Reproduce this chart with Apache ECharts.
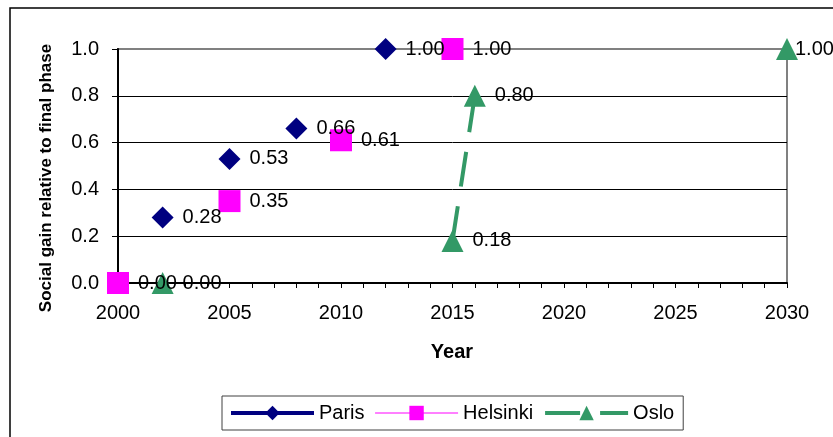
<!DOCTYPE html>
<html>
<head>
<meta charset="utf-8">
<script src="https://cdn.jsdelivr.net/npm/echarts@6/dist/echarts.min.js"></script>
<style>
  html, body { margin: 0; padding: 0; background: #fff; }
  #chart { width: 833px; height: 437px; }
</style>
</head>
<body>
<div id="chart"></div>
<script>
// values
const parisYears = [2002, 2005, 2008, 2012];
const parisValues = [0.28, 0.53, 0.66, 1.00];
const helsinkiYears = [2000, 2005, 2010, 2015];
const helsinkiValues = [0.00, 0.35, 0.61, 1.00];
const osloYears = [2002, 2015, 2016, 2030];
const osloValues = [0.00, 0.18, 0.80, 1.00];
// which neighbouring points are joined by a line (only Oslo 2015-2016)
const parisJoined = [false, false, false];
const helsinkiJoined = [false, false, false];
const osloJoined = [false, true, false];

const yTicks = [0, 0.2, 0.4, 0.6, 0.8, 1.0];
const xTicks = [2000, 2005, 2010, 2015, 2020, 2025, 2030];

const FONT = 'Liberation Sans, Arial, sans-serif';
const X_MAX = xTicks[xTicks.length - 1];

// build points, putting a break where two points are not joined
function buildData(years, values, joined) {
  let out = [];
  for (let i = 0; i < years.length; i++) {
    let item = { value: [years[i], values[i]] };
    // a point on the right edge keeps its label inside the chart, like excel
    if (years[i] === X_MAX) {
      item.label = { distance: -3 };
    }
    out.push(item);
    if (i < joined.length && !joined[i]) {
      out.push([years[i], '-']);
    }
  }
  return out;
}

function makeSeries(name, years, values, joined, symbol, color, width, dash) {
  return {
    name: name,
    type: 'line',
    data: buildData(years, values, joined),
    connectNulls: false,
    symbol: symbol,
    symbolSize: 22,
    showAllSymbol: true,
    itemStyle: { color: color },
    lineStyle: { color: color, width: width, type: dash },
    label: {
      show: true,
      position: 'right',
      distance: 9,
      color: '#000',
      fontFamily: FONT,
      fontSize: 20,
      formatter: function (p) { return Number(p.value[1]).toFixed(2); }
    },
    emphasis: { disabled: true },
    animation: false
  };
}

let chart = echarts.init(document.getElementById('chart'));

let options = {
  backgroundColor: '#fff',
  animation: false,
  textStyle: { fontFamily: FONT },
  grid: {
    left: 118,
    right: 46,
    top: 49,
    bottom: 154,
    show: true,
    borderColor: '#808080',
    borderWidth: 2
  },
  xAxis: {
    type: 'value',
    min: xTicks[0],
    max: X_MAX,
    interval: 5,
    axisLine: { show: true, lineStyle: { color: '#000', width: 2 } },
    axisTick: { show: true, inside: false, length: 5, lineStyle: { color: '#000', width: 1 } },
    minorTick: { show: true, splitNumber: 5, length: 5, lineStyle: { color: '#000', width: 1 } },
    splitLine: { show: false },
    axisLabel: {
      color: '#000',
      fontSize: 20,
      fontFamily: FONT,
      margin: 20,
      formatter: function (v) { return String(v); }
    }
  },
  yAxis: {
    type: 'value',
    min: yTicks[0],
    max: yTicks[yTicks.length - 1],
    interval: 0.2,
    axisLine: { show: true, lineStyle: { color: '#000', width: 2 } },
    axisTick: { show: true, inside: false, length: 6, lineStyle: { color: '#000', width: 1 } },
    splitLine: {
      show: true,
      lineStyle: { color: ['#000', '#000', '#000', '#000', '#000', '#808080'], width: 1 }
    },
    axisLabel: {
      color: '#000',
      fontSize: 20,
      fontFamily: FONT,
      margin: 19,
      formatter: function (v) { return v.toFixed(1); }
    }
  },
  legend: {
    left: 222,
    top: 396,
    orient: 'horizontal',
    itemWidth: 83,
    itemHeight: 18,
    itemGap: 10,
    padding: [7, 9, 7, 7],
    borderColor: '#404040',
    borderWidth: 1,
    selectedMode: false,
    textStyle: { color: '#000', fontSize: 20, fontFamily: FONT, lineHeight: 20 },
    data: [
      { name: 'Paris', lineStyle: { width: 4 } },
      { name: 'Helsinki', lineStyle: { width: 1 } },
      { name: 'Oslo', lineStyle: { width: 4 } }
    ]
  },
  graphic: [
    {
      type: 'rect',
      shape: { x: 10, y: 8, width: 900, height: 500 },
      style: { fill: 'none', stroke: '#000', lineWidth: 1.5 },
      silent: true
    },
    {
      type: 'text',
      x: 452,
      y: 352,
      style: {
        text: 'Year',
        fill: '#000',
        font: 'bold 20px ' + FONT,
        textAlign: 'center',
        textVerticalAlign: 'middle'
      }
    },
    {
      type: 'text',
      x: 46,
      y: 178,
      rotation: Math.PI / 2,
      style: {
        text: 'Social gain relative to final phase',
        fill: '#000',
        font: 'bold 17px ' + FONT,
        textAlign: 'center',
        textVerticalAlign: 'middle'
      }
    }
  ],
  series: [
    makeSeries('Paris', parisYears, parisValues, parisJoined, 'diamond', '#000080', 4, 'solid'),
    makeSeries('Helsinki', helsinkiYears, helsinkiValues, helsinkiJoined, 'rect', '#ff00ff', 1, 'solid'),
    makeSeries('Oslo', osloYears, osloValues, osloJoined, 'triangle', '#339966', 4, [35, 20])
  ]
};

chart.setOption(options);
</script>
</body>
</html>
